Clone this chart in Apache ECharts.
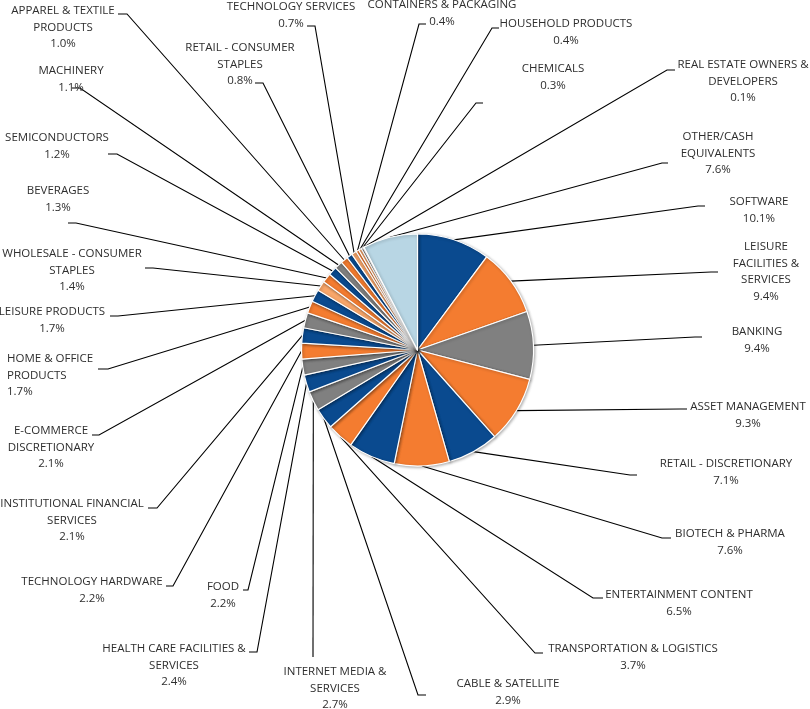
<!DOCTYPE html>
<html><head><meta charset="utf-8">
<script src="https://cdn.jsdelivr.net/npm/echarts@6/dist/echarts.min.js"></script>
<style>html,body{margin:0;padding:0;background:#fff}#c{width:810px;height:709px}</style>
</head><body><div id="c"></div>
<script>
const categories = ['SOFTWARE','LEISURE\nFACILITIES &\nSERVICES','BANKING','ASSET MANAGEMENT','RETAIL - DISCRETIONARY','BIOTECH & PHARMA','ENTERTAINMENT CONTENT','TRANSPORTATION & LOGISTICS','CABLE & SATELLITE','INTERNET MEDIA &\nSERVICES','HEALTH CARE FACILITIES &\nSERVICES','FOOD','TECHNOLOGY HARDWARE','INSTITUTIONAL FINANCIAL\nSERVICES','E-COMMERCE\nDISCRETIONARY','HOME & OFFICE\nPRODUCTS','LEISURE PRODUCTS','WHOLESALE - CONSUMER\nSTAPLES','BEVERAGES','SEMICONDUCTORS','MACHINERY','APPAREL & TEXTILE\nPRODUCTS','RETAIL - CONSUMER\nSTAPLES','TECHNOLOGY SERVICES','CONTAINERS & PACKAGING','HOUSEHOLD PRODUCTS','CHEMICALS','REAL ESTATE OWNERS &\nDEVELOPERS','OTHER/CASH\nEQUIVALENTS'];
const values = [10.1, 9.4, 9.4, 9.3, 7.1, 7.6, 6.5, 3.7, 2.9, 2.7, 2.4, 2.2, 2.2, 2.1, 2.1, 1.7, 1.7, 1.4, 1.3, 1.2, 1.1, 1.0, 0.8, 0.7, 0.4, 0.4, 0.3, 0.1, 7.6];
const DB = '#0a4a8f', OR = '#f47c30', GR = '#808080', LO = '#f8a66a', LB = '#b8d6e4', LG = '#d9d9d9';
const sliceColors = [DB, OR, GR, OR, DB, OR, DB, OR, DB, GR, DB, GR, OR, DB, GR, OR, DB, LO, OR, DB, GR, OR, DB, LO, OR, LO, GR, LG, LB];
// label placement: [textX, firstLineCenterY, elbowX, endX, lineY, align]
const labelSpots = [
 [759, 202, 698, 705, 206, 'center'],
 [766, 247, 711, 718, 272, 'center'],
 [757, 332, 695, 702, 337, 'center'],
 [748, 407, 680, 687, 409, 'center'],
 [726, 464, 630, 637, 475, 'center'],
 [730, 534, 662, 671, 538, 'center'],
 [679, 595, 593, 603, 598, 'center'],
 [633, 649, 535, 543, 653, 'center'],
 [508, 684, 418, 426, 695, 'center'],
 [335, 672, 313, 313, 657, 'center'],
 [174, 649, 257, 249, 652, 'center'],
 [223, 587, 248, 243, 590, 'center'],
 [92, 582, 173, 166, 586, 'center'],
 [72, 504, 157, 148, 508, 'center'],
 [51, 431, 99, 92, 435, 'center'],
 [7, 359, 108, 98, 369, 'left'],
 [52, 312, 118, 110, 316, 'center'],
 [72, 254, 153, 145, 268, 'center'],
 [58, 191, 76, 68, 223, 'center'],
 [57, 138, 117, 108, 154, 'center'],
 [71, 71, 80, 72, 88, 'center'],
 [63, 11, 127, 118, 14, 'center'],
 [240, 48, 263, 255, 83, 'center'],
 [291, 7, 315, 307, 26, 'center'],
 [442, 5, 419, 426, 24, 'center'],
 [566, 24, 492, 499, 28, 'center'],
 [553, 69, 476, 483, 103, 'center'],
 [743, 65, 667, 675, 70, 'center'],
 [718, 137, 662, 668, 163, 'center']
];
const LINE_H = 16.5;
const FONT = '"Open Sans", Roboto, sans-serif';
const FONT_SIZE = 11.5;

const chart = echarts.init(document.getElementById('c'), null, {renderer: 'canvas'});
chart.setOption({
  animation: false,
  backgroundColor: '#fff',
  series: [{
    type: 'pie',
    center: [417.5, 350],
    radius: [0, 116],
    startAngle: 90,
    clockwise: true,
    avoidLabelOverlap: false,
    silent: true,
    data: values.map((v, i) => ({name: categories[i], value: v, itemStyle: {color: sliceColors[i]}})),
    itemStyle: {borderColor: '#fff', borderWidth: 1.2, shadowBlur: 3, shadowColor: 'rgba(0,0,0,0.3)', shadowOffsetX: 1, shadowOffsetY: 1},
    label: {
      show: true, position: 'outside', color: '#2e2e2e', fontSize: FONT_SIZE, fontFamily: FONT,
      lineHeight: LINE_H, align: 'center',
      formatter: p => p.name + '\n' + p.value.toFixed(1) + '%'
    },
    labelLine: {show: true, length: 10, length2: 10, lineStyle: {color: '#000', width: 1.1}},
    labelLayout: function (p) {
      const s = labelSpots[p.dataIndex];
      const start = p.labelLinePoints[0];
      return {
        x: s[0], y: s[1] - LINE_H / 2, align: s[5], verticalAlign: 'top',
        labelLinePoints: [start, [s[2], s[4]], [s[3], s[4]]]
      };
    }
  }]
});
</script></body></html>
